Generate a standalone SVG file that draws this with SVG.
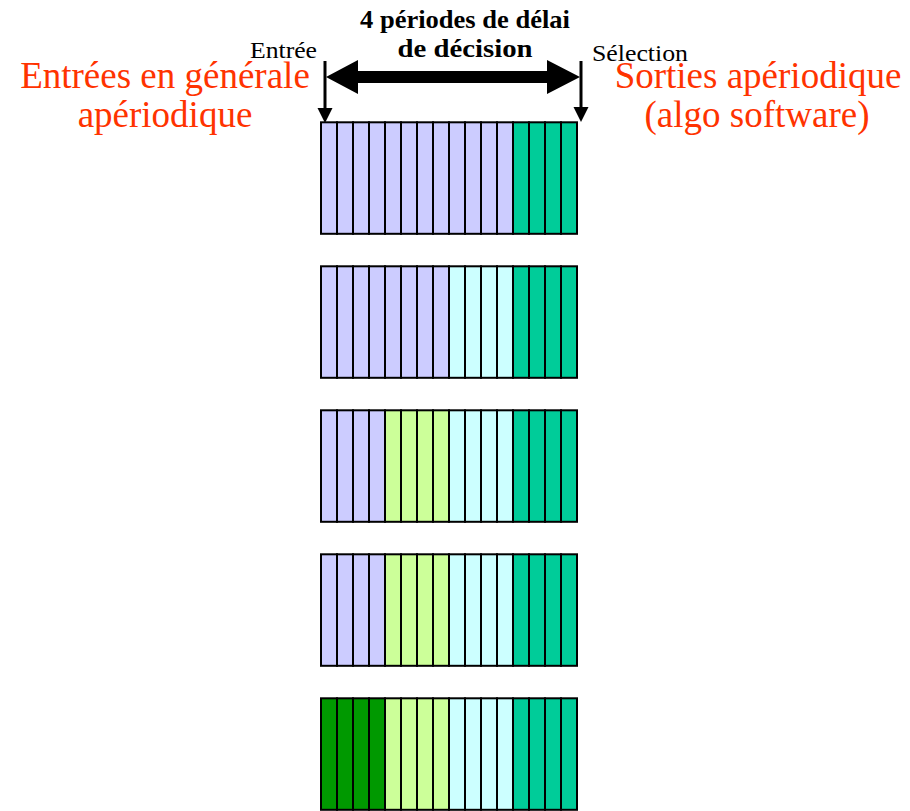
<svg xmlns="http://www.w3.org/2000/svg" width="910" height="811" viewBox="0 0 910 811">
<style>
.cell{stroke:#000;stroke-width:2}
.lav{fill:#ccccff}
.grn{fill:#00cc99}
.lg{fill:#ccff99}
.cy{fill:#ccffff}
.dg{fill:#009900}
.red{font-family:"Liberation Serif","Times New Roman",serif;font-size:37px;fill:#ff3300;text-anchor:middle}
.lbl{font-family:"Liberation Serif","Times New Roman",serif;font-size:24px;fill:#000}
.ttl{font-family:"Liberation Serif","Times New Roman",serif;font-size:25px;font-weight:bold;fill:#000;text-anchor:middle}
</style>
<defs>
<g id="row-lav4"><rect class="cell lav" x="0" y="0" width="16" height="111.5"/><rect class="cell lav" x="16" y="0" width="16" height="111.5"/><rect class="cell lav" x="32" y="0" width="16" height="111.5"/><rect class="cell lav" x="48" y="0" width="16" height="111.5"/></g>
<g id="row-grn4"><rect class="cell grn" x="0" y="0" width="16" height="111.5"/><rect class="cell grn" x="16" y="0" width="16" height="111.5"/><rect class="cell grn" x="32" y="0" width="16" height="111.5"/><rect class="cell grn" x="48" y="0" width="16" height="111.5"/></g>
<g id="row-lg4"><rect class="cell lg" x="0" y="0" width="16" height="111.5"/><rect class="cell lg" x="16" y="0" width="16" height="111.5"/><rect class="cell lg" x="32" y="0" width="16" height="111.5"/><rect class="cell lg" x="48" y="0" width="16" height="111.5"/></g>
<g id="row-cy4"><rect class="cell cy" x="0" y="0" width="16" height="111.5"/><rect class="cell cy" x="16" y="0" width="16" height="111.5"/><rect class="cell cy" x="32" y="0" width="16" height="111.5"/><rect class="cell cy" x="48" y="0" width="16" height="111.5"/></g>
<g id="row-dg4"><rect class="cell dg" x="0" y="0" width="16" height="111.5"/><rect class="cell dg" x="16" y="0" width="16" height="111.5"/><rect class="cell dg" x="32" y="0" width="16" height="111.5"/><rect class="cell dg" x="48" y="0" width="16" height="111.5"/></g>
</defs>

<g id="text-left">
<text class="red" x="165" y="88">Entrées en générale</text>
<text class="red" x="165" y="127">apériodique</text>
</g>
<g id="text-right">
<text class="red" x="758" y="88">Sorties apériodique</text>
<text class="red" x="757" y="127">(algo software)</text>
</g>
<g id="title">
<text class="ttl" x="465" y="28" textLength="210" lengthAdjust="spacingAndGlyphs">4 périodes de délai</text>
<text class="ttl" x="465" y="57" textLength="135" lengthAdjust="spacingAndGlyphs">de décision</text>
</g>
<g id="label-entree"><text class="lbl" x="250" y="58" textLength="67" lengthAdjust="spacingAndGlyphs">Entrée</text></g>
<g id="label-selection"><text class="lbl" x="592" y="61" textLength="96" lengthAdjust="spacingAndGlyphs">Sélection</text></g>

<g id="block1" transform="translate(321,122.3)">
<use href="#row-lav4" x="0"/><use href="#row-lav4" x="64"/><use href="#row-lav4" x="128"/><use href="#row-grn4" x="192"/>
</g>
<g id="block2" transform="translate(321,266.3)">
<use href="#row-lav4" x="0"/><use href="#row-lav4" x="64"/><use href="#row-cy4" x="128"/><use href="#row-grn4" x="192"/>
</g>
<g id="block3" transform="translate(321,410.3)">
<use href="#row-lav4" x="0"/><use href="#row-lg4" x="64"/><use href="#row-cy4" x="128"/><use href="#row-grn4" x="192"/>
</g>
<g id="block4" transform="translate(321,554.3)">
<use href="#row-lav4" x="0"/><use href="#row-lg4" x="64"/><use href="#row-cy4" x="128"/><use href="#row-grn4" x="192"/>
</g>
<g id="block5" transform="translate(321,698.3)">
<use href="#row-dg4" x="0"/><use href="#row-lg4" x="64"/><use href="#row-cy4" x="128"/><use href="#row-grn4" x="192"/>
</g>

<g id="connectors">
<line x1="325" y1="61" x2="325" y2="110" stroke="#000" stroke-width="3"/>
<polygon points="317.5,108 332.5,108 325,123" fill="#000"/>
<line x1="581" y1="61" x2="581" y2="110" stroke="#000" stroke-width="3"/>
<polygon points="573.5,107 588.5,107 581,122" fill="#000"/>
<polygon points="326,77 358,60 358,71 547,71 547,60 580,77 547,94 547,83 358,83 358,94" fill="#000"/>
</g>
</svg>
